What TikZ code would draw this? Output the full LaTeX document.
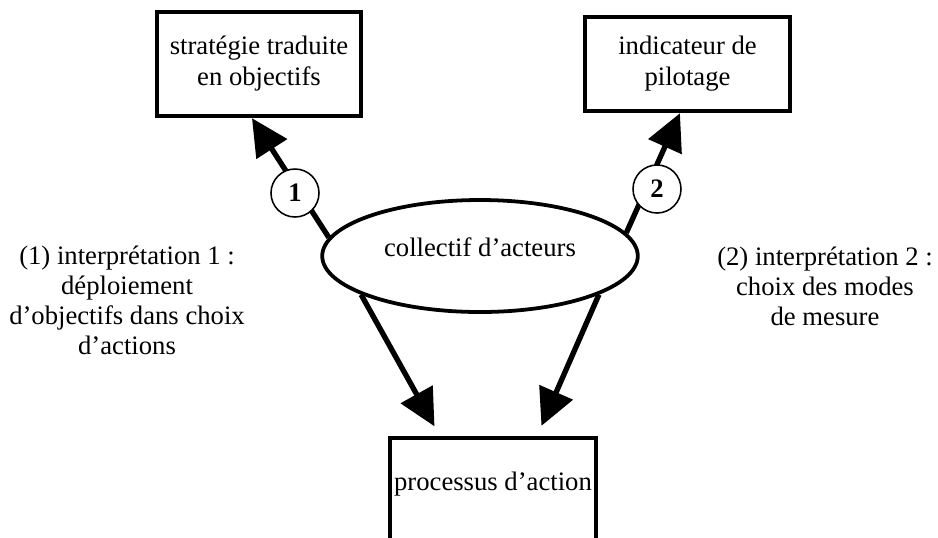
\documentclass[tikz,border=0pt]{standalone}
\usepackage{fontspec}
\setmainfont{Liberation Serif}
\usetikzlibrary{positioning, calc, arrows.meta, shapes.geometric}

\begin{document}
\begin{tikzpicture}[x=0.45pt, y=-0.45pt,
    every node/.style={font=\fontsize{12}{14}\selectfont},
    boite/.style={draw, line width=2pt, align=center, inner sep=0pt},
    acteur/.style={draw, ellipse, line width=1.7pt, minimum width=142pt, minimum height=50.4pt, inner sep=0pt},
    numero/.style={draw, circle, fill=white, line width=0.7pt, minimum size=21.6pt, inner sep=0pt, font=\fontsize{12}{12}\selectfont\bfseries},
    legende/.style={align=center, font=\fontsize{12}{13.5}\selectfont},
    fleche/.style={line width=2.4pt, -{Triangle[length=16.5pt, width=16pt]}}]
    \useasboundingbox (0,0) rectangle (938,537);

    % ボックスと楕円
    \node[boite, minimum width=91.8pt, minimum height=46.8pt] (strat) at (259,64) {stratégie traduite\\en objectifs};
    \node[boite, minimum width=92.3pt, minimum height=42.3pt] (indic) at (687.5,64) {indicateur de\\pilotage};
    \node[acteur, text height=8pt, text depth=8pt] (coll) at (480,256) {collectif d’acteurs};
    \node[boite, anchor=north, minimum width=92.7pt, text height=23.4pt, text depth=30pt] (proc) at (493,436) {processus d’action};

    % 矢印
    \draw[fleche] (coll.173) -- ([xshift=-3.15pt]strat.south);
    \draw[fleche] (coll.9) -- ([xshift=-3.4pt]indic.south);
    \draw[fleche, shorten >=5pt] (coll.198) -- ([xshift=-23.9pt]proc.north);
    \draw[fleche, shorten >=5pt] (coll.342) -- ([xshift=19.8pt]proc.north);

    % 番号
    \node[numero] (n1) at (295,193) {1};
    \node[numero] (n2) at (657,189) {2};

    % 説明
    \node[legende] (interp1) at (127,300) {(1) interprétation 1 :\\déploiement\\d’objectifs dans choix\\d’actions};
    \node[legende] (interp2) at (825,286) {(2) interprétation 2 :\\choix des modes\\de mesure};

\end{tikzpicture}
\end{document}
